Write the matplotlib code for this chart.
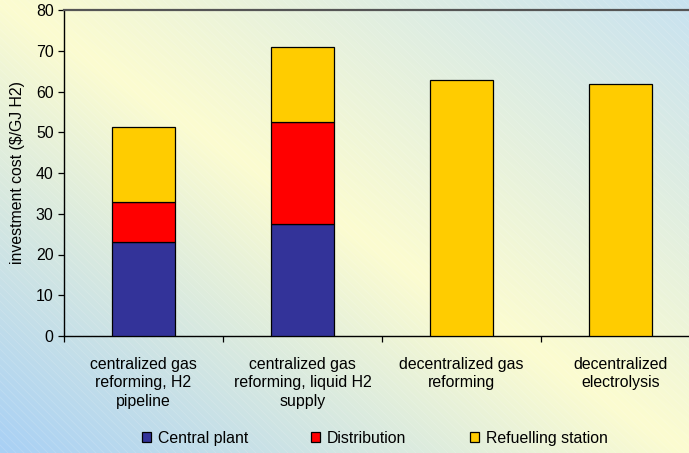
import numpy as np
import matplotlib
matplotlib.use("Agg")
import matplotlib.pyplot as plt
from matplotlib.patches import Patch

plt.rcParams['font.family'] = ['Liberation Sans', 'DejaVu Sans']

categories = [
    "centralized gas\nreforming, H2\npipeline",
    "centralized gas\nreforming, liquid H2\nsupply",
    "decentralized gas\nreforming",
    "decentralized\nelectrolysis",
]
central_plant = [23.0, 27.6, 0.0, 0.0]
distribution = [9.8, 24.8, 0.0, 0.0]
refuelling = [18.4, 18.4, 62.8, 61.8]
series_names = ["Central plant", "Distribution", "Refuelling station"]
series_colors = ["#333399", "#FF0000", "#FFCC00"]
y_ticks = [0, 10, 20, 30, 40, 50, 60, 70, 80]

W, H = 689, 453
fig = plt.figure(figsize=(W / 100, H / 100), dpi=100)

# diagonal blue-yellow-blue background with faint white hatching
bg = fig.add_axes([0, 0, 1, 1], zorder=-10)
xs = np.linspace(0, 1, W)
ys = np.linspace(1, 0, H)
X, Y = np.meshgrid(xs, ys)
u = (X + Y) / 2.0
c_bl = np.array([168, 208, 245]) / 255.0
c_mid = np.array([252, 252, 208]) / 255.0
c_tr = np.array([200, 226, 240]) / 255.0
lo = np.clip(u / 0.5, 0, 1)[..., None]
hi = np.clip((u - 0.5) / 0.5, 0, 1)[..., None]
img = np.where(u[..., None] < 0.5, c_bl + (c_mid - c_bl) * lo, c_mid + (c_tr - c_mid) * hi)
bg.imshow(img, extent=[0, W, 0, H], aspect='auto', origin='upper')
for k in range(-H, W + H, 8):
    bg.plot([k, k + H], [H, 0], color='white', lw=0.6, alpha=0.15)
bg.set_xlim(0, W)
bg.set_ylim(0, H)
bg.axis('off')

ax = fig.add_axes([64 / W, (H - 336) / H, 636 / W, 326 / H])
ax.set_facecolor('none')

x = np.arange(len(categories))
bw = 0.4
bottom = np.zeros(len(categories))
for vals, name, col in zip([central_plant, distribution, refuelling], series_names, series_colors):
    vals = np.array(vals)
    mask = vals > 0
    ax.bar(x[mask], vals[mask], bw, bottom=bottom[mask], color=col,
           edgecolor='black', linewidth=0.9, label=name, zorder=3)
    bottom += vals

ax.set_xlim(-0.5, 3.5)
ax.set_ylim(0, 80)
ax.set_yticks(y_ticks)
ax.tick_params(axis='y', direction='out', length=4.5, width=0.9, labelsize=11.4, pad=3, colors='black')
ax.set_xticks(x)
ax.set_xticklabels(categories, fontsize=11.4, linespacing=1.3)
ax.tick_params(axis='x', which='major', length=0, pad=15)
ax.set_xticks(np.arange(-0.5, 4.0, 1.0), minor=True)
ax.tick_params(axis='x', which='minor', direction='out', length=4.5, width=0.9)

for s in ['left', 'bottom']:
    ax.spines[s].set_color('black')
    ax.spines[s].set_linewidth(1.0)
ax.spines['top'].set_color('#555555')
ax.spines['top'].set_linewidth(1.6)
ax.spines['right'].set_visible(False)

ax.set_ylabel("investment cost ($/GJ H2)", fontsize=11.4, labelpad=8)

handles = [Patch(facecolor=c, edgecolor='black', linewidth=0.9) for c in series_colors]
fig.legend(handles, series_names, loc='center', bbox_to_anchor=(0.544, 0.033),
           ncol=3, frameon=False, fontsize=11.4, handlelength=0.55, handleheight=0.55,
           handletextpad=0.45, columnspacing=4.0)

fig.savefig("out.png", dpi=100)
